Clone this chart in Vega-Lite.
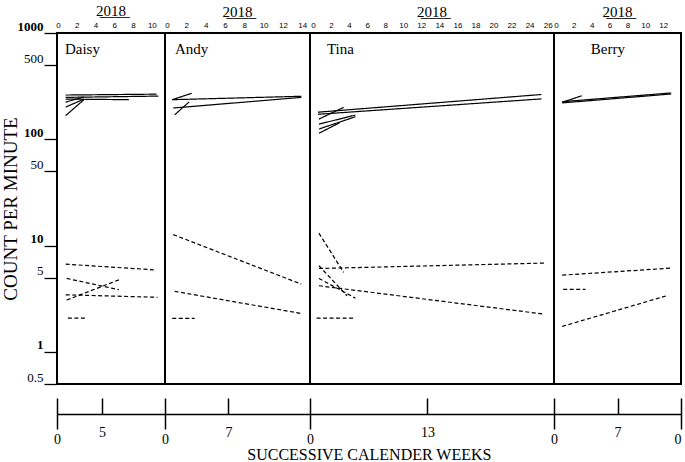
{
  "$schema": "https://vega.github.io/schema/vega-lite/v6.json",
  "padding": {"left": 0, "top": 3, "right": 0, "bottom": 0},
  "background": "white",
  "bounds": "flush",
  "datasets": {
    "lines": [
      {"panel": "Daisy", "line": "D1", "style": "solid", "week": 0.82, "count": 261},
      {"panel": "Daisy", "line": "D1", "style": "solid", "week": 10.5, "count": 266},
      {"panel": "Daisy", "line": "D2", "style": "solid", "week": 0.82, "count": 248},
      {"panel": "Daisy", "line": "D2", "style": "solid", "week": 10.7, "count": 255},
      {"panel": "Daisy", "line": "D3", "style": "solid", "week": 0.82, "count": 239},
      {"panel": "Daisy", "line": "D3", "style": "solid", "week": 7.55, "count": 236},
      {"panel": "Daisy", "line": "D4", "style": "solid", "week": 0.82, "count": 224},
      {"panel": "Daisy", "line": "D4", "style": "solid", "week": 2.77, "count": 250},
      {"panel": "Daisy", "line": "D5", "style": "solid", "week": 0.82, "count": 201},
      {"panel": "Daisy", "line": "D5", "style": "solid", "week": 2.77, "count": 239},
      {"panel": "Daisy", "line": "D6", "style": "solid", "week": 0.82, "count": 167},
      {"panel": "Daisy", "line": "D6", "style": "solid", "week": 2.77, "count": 236},
      {"panel": "Daisy", "line": "D7", "style": "dashed", "week": 0.82, "count": 6.7},
      {"panel": "Daisy", "line": "D7", "style": "dashed", "week": 10.2, "count": 5.93},
      {"panel": "Daisy", "line": "D8", "style": "dashed", "week": 0.93, "count": 4.92},
      {"panel": "Daisy", "line": "D8", "style": "dashed", "week": 6.5, "count": 3.85},
      {"panel": "Daisy", "line": "D9", "style": "dashed", "week": 0.93, "count": 3.08},
      {"panel": "Daisy", "line": "D9", "style": "dashed", "week": 6.5, "count": 4.77},
      {"panel": "Daisy", "line": "D10", "style": "dashed", "week": 0.82, "count": 3.45},
      {"panel": "Daisy", "line": "D10", "style": "dashed", "week": 10.6, "count": 3.27},
      {"panel": "Daisy", "line": "D11", "style": "dashed", "week": 1.06, "count": 2.08},
      {"panel": "Daisy", "line": "D11", "style": "dashed", "week": 2.95, "count": 2.08},

      {"panel": "Andy", "line": "A1", "style": "solid", "week": 0.55, "count": 236},
      {"panel": "Andy", "line": "A1", "style": "solid", "week": 2.56, "count": 271},
      {"panel": "Andy", "line": "A2", "style": "solid", "week": 0.55, "count": 236},
      {"panel": "Andy", "line": "A2", "style": "solid", "week": 13.9, "count": 254},
      {"panel": "Andy", "line": "A3", "style": "solid", "week": 0.65, "count": 197},
      {"panel": "Andy", "line": "A3", "style": "solid", "week": 13.9, "count": 248},
      {"panel": "Andy", "line": "A4", "style": "solid", "week": 0.8, "count": 170},
      {"panel": "Andy", "line": "A4", "style": "solid", "week": 2.3, "count": 225},
      {"panel": "Andy", "line": "A5", "style": "dashed", "week": 0.65, "count": 12.7},
      {"panel": "Andy", "line": "A5", "style": "dashed", "week": 13.9, "count": 4.35},
      {"panel": "Andy", "line": "A6", "style": "dashed", "week": 0.8, "count": 3.72},
      {"panel": "Andy", "line": "A6", "style": "dashed", "week": 13.8, "count": 2.31},
      {"panel": "Andy", "line": "A7", "style": "dashed", "week": 0.55, "count": 2.07},
      {"panel": "Andy", "line": "A7", "style": "dashed", "week": 2.87, "count": 2.07},

      {"panel": "Tina", "line": "T1", "style": "solid", "week": 0.55, "count": 180},
      {"panel": "Tina", "line": "T1", "style": "solid", "week": 25.3, "count": 264},
      {"panel": "Tina", "line": "T2", "style": "solid", "week": 0.55, "count": 172},
      {"panel": "Tina", "line": "T2", "style": "solid", "week": 25.3, "count": 240},
      {"panel": "Tina", "line": "T3", "style": "solid", "week": 0.66, "count": 155},
      {"panel": "Tina", "line": "T3", "style": "solid", "week": 3.4, "count": 200},
      {"panel": "Tina", "line": "T4", "style": "solid", "week": 0.66, "count": 139},
      {"panel": "Tina", "line": "T4", "style": "solid", "week": 4.7, "count": 169},
      {"panel": "Tina", "line": "T5", "style": "solid", "week": 0.66, "count": 125},
      {"panel": "Tina", "line": "T5", "style": "solid", "week": 4.7, "count": 163},
      {"panel": "Tina", "line": "T6", "style": "solid", "week": 0.66, "count": 114},
      {"panel": "Tina", "line": "T6", "style": "solid", "week": 3.0, "count": 144},
      {"panel": "Tina", "line": "T7", "style": "dashed", "week": 0.66, "count": 13.1},
      {"panel": "Tina", "line": "T7", "style": "dashed", "week": 3.4, "count": 5.6},
      {"panel": "Tina", "line": "T8", "style": "dashed", "week": 0.66, "count": 6.1},
      {"panel": "Tina", "line": "T8", "style": "dashed", "week": 25.7, "count": 6.86},
      {"panel": "Tina", "line": "T9", "style": "dashed", "week": 0.66, "count": 6.47},
      {"panel": "Tina", "line": "T9", "style": "dashed", "week": 3.77, "count": 3.38},
      {"panel": "Tina", "line": "T10", "style": "dashed", "week": 0.66, "count": 4.92},
      {"panel": "Tina", "line": "T10", "style": "dashed", "week": 4.7, "count": 3.21},
      {"panel": "Tina", "line": "T11", "style": "dashed", "week": 0.66, "count": 4.2},
      {"panel": "Tina", "line": "T11", "style": "dashed", "week": 25.6, "count": 2.27},
      {"panel": "Tina", "line": "T12", "style": "dashed", "week": 0.4, "count": 2.08},
      {"panel": "Tina", "line": "T12", "style": "dashed", "week": 4.6, "count": 2.08},

      {"panel": "Berry", "line": "B1", "style": "solid", "week": 0.7, "count": 226},
      {"panel": "Berry", "line": "B1", "style": "solid", "week": 12.9, "count": 273},
      {"panel": "Berry", "line": "B2", "style": "solid", "week": 0.7, "count": 220},
      {"panel": "Berry", "line": "B2", "style": "solid", "week": 12.9, "count": 267},
      {"panel": "Berry", "line": "B3", "style": "solid", "week": 0.7, "count": 223},
      {"panel": "Berry", "line": "B3", "style": "solid", "week": 2.9, "count": 257},
      {"panel": "Berry", "line": "B4", "style": "dashed", "week": 0.7, "count": 5.28},
      {"panel": "Berry", "line": "B4", "style": "dashed", "week": 12.9, "count": 6.15},
      {"panel": "Berry", "line": "B5", "style": "dashed", "week": 0.81, "count": 3.88},
      {"panel": "Berry", "line": "B5", "style": "dashed", "week": 3.3, "count": 3.88},
      {"panel": "Berry", "line": "B6", "style": "dashed", "week": 0.7, "count": 1.74},
      {"panel": "Berry", "line": "B6", "style": "dashed", "week": 12.4, "count": 3.38}
    ],
    "names": [
      {"panel": "Daisy", "name": "Daisy", "week": 0.74, "count": 634},
      {"panel": "Andy", "name": "Andy", "week": 0.83, "count": 634},
      {"panel": "Tina", "name": "Tina", "week": 1.54, "count": 634},
      {"panel": "Berry", "name": "Berry", "week": 3.9, "count": 634}
    ],
    "anchor": [{"w": 0}]
  },
  "spacing": 0,
  "title": {"text": "SUCCESSIVE CALENDER WEEKS", "orient": "bottom", "anchor": "middle", "font": "Liberation Serif", "fontSize": 16, "fontWeight": "normal", "color": "black", "offset": 0, "dx": 28},
  "hconcat": [
    {
      "width": 108, "height": 351,
      "title": {"text": "2̲0̲1̲8̲", "font": "Liberation Serif", "fontSize": 15, "fontWeight": "normal", "color": "black", "anchor": "middle", "offset": 1, "orient": "top"},
      "layer": [
        {
          "data": {"name": "lines"},
          "transform": [{"filter": "datum.panel == 'Daisy'"}],
          "mark": {"type": "line", "color": "black", "strokeWidth": 1.2},
          "encoding": {
            "x": {"field": "week", "type": "quantitative", "scale": {"domain": [-0.1, 11.4], "nice": false, "zero": false},
                  "axis": {"orient": "top", "values": [0, 2, 4, 6, 8, 10], "ticks": false, "domain": false, "grid": false, "labelPadding": 4, "labelFont": "Liberation Sans", "labelFontSize": 8, "labelColor": "black", "labelFlush": false, "title": null}},
            "y": {"field": "count", "type": "quantitative", "scale": {"type": "log", "domain": [0.5, 1000], "nice": false},
                  "axis": {"orient": "left", "values": [0.5, 1, 5, 10, 50, 100, 500, 1000], "tickSize": 13, "tickColor": "black", "tickWidth": 1.3, "domain": false, "grid": false, "labelPadding": 1, "labelFont": "Liberation Serif", "labelFontSize": 13, "labelColor": "black",
                           "labelFontWeight": {"condition": {"test": "datum.value == 1 || datum.value == 10 || datum.value == 100 || datum.value == 1000", "value": "bold"}, "value": "normal"},
                           "labelBaseline": "alphabetic", "labelOffset": -3, "labelExpr": "datum.value + ''", "labelFlush": false, "labelOverlap": false,
                           "title": "COUNT PER MINUTE", "titleFont": "Liberation Serif", "titleFontSize": 19, "titleFontWeight": "normal", "titleColor": "black", "titlePadding": -3}},
            "detail": {"field": "line", "type": "nominal"},
            "strokeDash": {"field": "style", "type": "nominal", "scale": {"domain": ["solid", "dashed"], "range": [[1, 0], [4, 2.5]]}, "legend": null}
          }
        },
        {
          "data": {"name": "names"},
          "transform": [{"filter": "datum.panel == 'Daisy'"}],
          "mark": {"type": "text", "align": "left", "baseline": "alphabetic", "font": "Liberation Serif", "fontSize": 15, "color": "black"},
          "encoding": {
            "x": {"field": "week", "type": "quantitative", "scale": {"domain": [-0.1, 11.4], "nice": false, "zero": false}, "axis": null},
            "y": {"field": "count", "type": "quantitative", "scale": {"type": "log", "domain": [0.5, 1000], "nice": false}},
            "text": {"field": "name"}
          }
        },
        {
          "data": {"name": "anchor"},
          "mark": {"type": "point", "opacity": 0},
          "encoding": {"x": {"field": "w", "type": "quantitative", "scale": {"domain": [0, 12], "nice": false, "zero": false},
            "axis": {"orient": "bottom", "values": [0], "offset": 14, "tickSize": 31, "tickColor": "black", "tickWidth": 1.5, "domain": false, "grid": false, "labelPadding": 3, "labelFont": "Liberation Serif", "labelFontSize": 14, "labelColor": "black", "labelFlush": false, "labelExpr": "'0'", "title": null}}}
        },
        {
          "data": {"name": "anchor"},
          "mark": {"type": "point", "opacity": 0},
          "encoding": {"x": {"field": "w", "type": "quantitative", "scale": {"domain": [0, 12], "nice": false, "zero": false},
            "axis": {"orient": "bottom", "values": [5], "offset": 14, "tickSize": 16, "tickColor": "black", "tickWidth": 1.5, "domain": false, "grid": false, "labelPadding": 11, "labelFont": "Liberation Serif", "labelFontSize": 14, "labelColor": "black", "labelFlush": false, "title": null}}}
        },
        {
          "data": {"name": "anchor"},
          "mark": {"type": "point", "opacity": 0},
          "encoding": {"x": {"field": "w", "type": "quantitative", "scale": {"domain": [0, 12], "nice": false, "zero": false},
            "axis": {"orient": "bottom", "values": [0], "offset": 30, "ticks": false, "labels": false, "domain": true, "domainColor": "black", "domainWidth": 1.5, "grid": false, "title": null}}}
        }
      ],
      "resolve": {"scale": {"x": "independent"}, "axis": {"x": "independent"}}
    },
    {
      "width": 145, "height": 351,
      "title": {"text": "2̲0̲1̲8̲", "font": "Liberation Serif", "fontSize": 15, "fontWeight": "normal", "color": "black", "anchor": "middle", "offset": 1, "orient": "top"},
      "layer": [
        {
          "data": {"name": "lines"},
          "transform": [{"filter": "datum.panel == 'Andy'"}],
          "mark": {"type": "line", "color": "black", "strokeWidth": 1.2},
          "encoding": {
            "x": {"field": "week", "type": "quantitative", "scale": {"domain": [-0.2, 14.8], "nice": false, "zero": false},
                  "axis": {"orient": "top", "values": [0, 2, 4, 6, 8, 10, 12, 14], "ticks": false, "domain": false, "grid": false, "labelPadding": 4, "labelFont": "Liberation Sans", "labelFontSize": 8, "labelColor": "black", "labelFlush": false, "title": null}},
            "y": {"field": "count", "type": "quantitative", "scale": {"type": "log", "domain": [0.5, 1000], "nice": false}, "axis": null},
            "detail": {"field": "line", "type": "nominal"},
            "strokeDash": {"field": "style", "type": "nominal", "scale": {"domain": ["solid", "dashed"], "range": [[1, 0], [4, 2.5]]}, "legend": null}
          }
        },
        {
          "data": {"name": "names"},
          "transform": [{"filter": "datum.panel == 'Andy'"}],
          "mark": {"type": "text", "align": "left", "baseline": "alphabetic", "font": "Liberation Serif", "fontSize": 15, "color": "black"},
          "encoding": {
            "x": {"field": "week", "type": "quantitative", "scale": {"domain": [-0.2, 14.8], "nice": false, "zero": false}, "axis": null},
            "y": {"field": "count", "type": "quantitative", "scale": {"type": "log", "domain": [0.5, 1000], "nice": false}, "axis": null},
            "text": {"field": "name"}
          }
        },
        {
          "data": {"name": "anchor"},
          "mark": {"type": "point", "opacity": 0},
          "encoding": {"x": {"field": "w", "type": "quantitative", "scale": {"domain": [0, 16], "nice": false, "zero": false},
            "axis": {"orient": "bottom", "values": [0], "offset": 14, "tickSize": 31, "tickColor": "black", "tickWidth": 1.5, "domain": false, "grid": false, "labelPadding": 3, "labelFont": "Liberation Serif", "labelFontSize": 14, "labelColor": "black", "labelFlush": false, "labelExpr": "'0'", "title": null}}}
        },
        {
          "data": {"name": "anchor"},
          "mark": {"type": "point", "opacity": 0},
          "encoding": {"x": {"field": "w", "type": "quantitative", "scale": {"domain": [0, 16], "nice": false, "zero": false},
            "axis": {"orient": "bottom", "values": [7], "offset": 14, "tickSize": 16, "tickColor": "black", "tickWidth": 1.5, "domain": false, "grid": false, "labelPadding": 11, "labelFont": "Liberation Serif", "labelFontSize": 14, "labelColor": "black", "labelFlush": false, "title": null}}}
        },
        {
          "data": {"name": "anchor"},
          "mark": {"type": "point", "opacity": 0},
          "encoding": {"x": {"field": "w", "type": "quantitative", "scale": {"domain": [0, 16], "nice": false, "zero": false},
            "axis": {"orient": "bottom", "values": [0], "offset": 30, "ticks": false, "labels": false, "domain": true, "domainColor": "black", "domainWidth": 1.5, "grid": false, "title": null}}}
        }
      ],
      "resolve": {"scale": {"x": "independent"}, "axis": {"x": "independent"}}
    },
    {
      "width": 244, "height": 351,
      "title": {"text": "2̲0̲1̲8̲", "font": "Liberation Serif", "fontSize": 15, "fontWeight": "normal", "color": "black", "anchor": "middle", "offset": 1, "orient": "top"},
      "layer": [
        {
          "data": {"name": "lines"},
          "transform": [{"filter": "datum.panel == 'Tina'"}],
          "mark": {"type": "line", "color": "black", "strokeWidth": 1.2},
          "encoding": {
            "x": {"field": "week", "type": "quantitative", "scale": {"domain": [-0.33, 26.7], "nice": false, "zero": false},
                  "axis": {"orient": "top", "values": [0, 2, 4, 6, 8, 10, 12, 14, 16, 18, 20, 22, 24, 26], "ticks": false, "domain": false, "grid": false, "labelPadding": 4, "labelFont": "Liberation Sans", "labelFontSize": 8, "labelColor": "black", "labelFlush": false, "labelOverlap": false, "title": null}},
            "y": {"field": "count", "type": "quantitative", "scale": {"type": "log", "domain": [0.5, 1000], "nice": false}, "axis": null},
            "detail": {"field": "line", "type": "nominal"},
            "strokeDash": {"field": "style", "type": "nominal", "scale": {"domain": ["solid", "dashed"], "range": [[1, 0], [4, 2.5]]}, "legend": null}
          }
        },
        {
          "data": {"name": "names"},
          "transform": [{"filter": "datum.panel == 'Tina'"}],
          "mark": {"type": "text", "align": "left", "baseline": "alphabetic", "font": "Liberation Serif", "fontSize": 15, "color": "black"},
          "encoding": {
            "x": {"field": "week", "type": "quantitative", "scale": {"domain": [-0.33, 26.7], "nice": false, "zero": false}, "axis": null},
            "y": {"field": "count", "type": "quantitative", "scale": {"type": "log", "domain": [0.5, 1000], "nice": false}, "axis": null},
            "text": {"field": "name"}
          }
        },
        {
          "data": {"name": "anchor"},
          "mark": {"type": "point", "opacity": 0},
          "encoding": {"x": {"field": "w", "type": "quantitative", "scale": {"domain": [0, 27], "nice": false, "zero": false},
            "axis": {"orient": "bottom", "values": [0], "offset": 14, "tickSize": 31, "tickColor": "black", "tickWidth": 1.5, "domain": false, "grid": false, "labelPadding": 3, "labelFont": "Liberation Serif", "labelFontSize": 14, "labelColor": "black", "labelFlush": false, "labelExpr": "'0'", "title": null}}}
        },
        {
          "data": {"name": "anchor"},
          "mark": {"type": "point", "opacity": 0},
          "encoding": {"x": {"field": "w", "type": "quantitative", "scale": {"domain": [0, 27], "nice": false, "zero": false},
            "axis": {"orient": "bottom", "values": [13], "offset": 14, "tickSize": 16, "tickColor": "black", "tickWidth": 1.5, "domain": false, "grid": false, "labelPadding": 11, "labelFont": "Liberation Serif", "labelFontSize": 14, "labelColor": "black", "labelFlush": false, "title": null}}}
        },
        {
          "data": {"name": "anchor"},
          "mark": {"type": "point", "opacity": 0},
          "encoding": {"x": {"field": "w", "type": "quantitative", "scale": {"domain": [0, 27], "nice": false, "zero": false},
            "axis": {"orient": "bottom", "values": [0], "offset": 30, "ticks": false, "labels": false, "domain": true, "domainColor": "black", "domainWidth": 1.5, "grid": false, "title": null}}}
        }
      ],
      "resolve": {"scale": {"x": "independent"}, "axis": {"x": "independent"}}
    },
    {
      "width": 127, "height": 351,
      "title": {"text": "2̲0̲1̲8̲", "font": "Liberation Serif", "fontSize": 15, "fontWeight": "normal", "color": "black", "anchor": "middle", "offset": 1, "orient": "top"},
      "layer": [
        {
          "data": {"name": "lines"},
          "transform": [{"filter": "datum.panel == 'Berry'"}],
          "mark": {"type": "line", "color": "black", "strokeWidth": 1.2},
          "encoding": {
            "x": {"field": "week", "type": "quantitative", "scale": {"domain": [-0.22, 14.0], "nice": false, "zero": false},
                  "axis": {"orient": "top", "values": [0, 2, 4, 6, 8, 10, 12], "ticks": false, "domain": false, "grid": false, "labelPadding": 4, "labelFont": "Liberation Sans", "labelFontSize": 8, "labelColor": "black", "labelFlush": false, "title": null}},
            "y": {"field": "count", "type": "quantitative", "scale": {"type": "log", "domain": [0.5, 1000], "nice": false}, "axis": null},
            "detail": {"field": "line", "type": "nominal"},
            "strokeDash": {"field": "style", "type": "nominal", "scale": {"domain": ["solid", "dashed"], "range": [[1, 0], [4, 2.5]]}, "legend": null}
          }
        },
        {
          "data": {"name": "names"},
          "transform": [{"filter": "datum.panel == 'Berry'"}],
          "mark": {"type": "text", "align": "left", "baseline": "alphabetic", "font": "Liberation Serif", "fontSize": 15, "color": "black"},
          "encoding": {
            "x": {"field": "week", "type": "quantitative", "scale": {"domain": [-0.22, 14.0], "nice": false, "zero": false}, "axis": null},
            "y": {"field": "count", "type": "quantitative", "scale": {"type": "log", "domain": [0.5, 1000], "nice": false}, "axis": null},
            "text": {"field": "name"}
          }
        },
        {
          "data": {"name": "anchor"},
          "mark": {"type": "point", "opacity": 0},
          "encoding": {"x": {"field": "w", "type": "quantitative", "scale": {"domain": [0, 14], "nice": false, "zero": false},
            "axis": {"orient": "bottom", "values": [0, 14], "offset": 14, "tickSize": 31, "tickColor": "black", "tickWidth": 1.5, "domain": false, "grid": false, "labelPadding": 3, "labelFont": "Liberation Serif", "labelFontSize": 14, "labelColor": "black", "labelFlush": false, "labelExpr": "'0'",
                     "labelAlign": {"condition": {"test": "datum.value == 14", "value": "right"}, "value": "center"}, "title": null}}}
        },
        {
          "data": {"name": "anchor"},
          "mark": {"type": "point", "opacity": 0},
          "encoding": {"x": {"field": "w", "type": "quantitative", "scale": {"domain": [0, 14], "nice": false, "zero": false},
            "axis": {"orient": "bottom", "values": [7], "offset": 14, "tickSize": 16, "tickColor": "black", "tickWidth": 1.5, "domain": false, "grid": false, "labelPadding": 11, "labelFont": "Liberation Serif", "labelFontSize": 14, "labelColor": "black", "labelFlush": false, "title": null}}}
        },
        {
          "data": {"name": "anchor"},
          "mark": {"type": "point", "opacity": 0},
          "encoding": {"x": {"field": "w", "type": "quantitative", "scale": {"domain": [0, 14], "nice": false, "zero": false},
            "axis": {"orient": "bottom", "values": [0], "offset": 30, "ticks": false, "labels": false, "domain": true, "domainColor": "black", "domainWidth": 1.5, "grid": false, "title": null}}}
        }
      ],
      "resolve": {"scale": {"x": "independent"}, "axis": {"x": "independent"}}
    }
  ],
  "config": {
    "view": {"stroke": "black", "strokeWidth": 2},
    "axis": {"labelColor": "black", "tickColor": "black", "domainColor": "black"}
  }
}
